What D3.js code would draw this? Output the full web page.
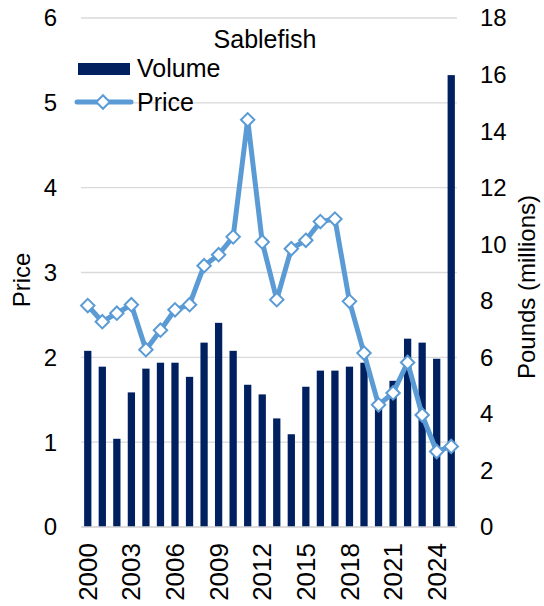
<!DOCTYPE html>
<html>
<head>
<meta charset="utf-8">
<script src="https://cdn.jsdelivr.net/npm/d3@7"></script>
<style>
  html, body { margin: 0; padding: 0; background: #fff; }
  svg { display: block; font-family: "Liberation Sans", Arial, sans-serif; }
</style>
</head>
<body>
<svg id="chart" width="544" height="606"></svg>
<script>
const years = [2000,2001,2002,2003,2004,2005,2006,2007,2008,2009,2010,2011,2012,2013,2014,2015,2016,2017,2018,2019,2020,2021,2022,2023,2024,2025];
const volume = [6.23,5.67,3.12,4.76,5.60,5.81,5.81,5.31,6.52,7.22,6.23,5.03,4.69,3.84,3.28,4.96,5.53,5.53,5.67,5.81,4.40,5.17,6.66,6.52,5.95,15.98];
const price = [2.61,2.42,2.52,2.62,2.09,2.32,2.56,2.62,3.08,3.21,3.42,4.80,3.36,2.68,3.28,3.38,3.60,3.63,2.66,2.05,1.44,1.58,1.94,1.32,0.89,0.95];
const priceTicks = [0,1,2,3,4,5,6];
const volumeTicks = [0,2,4,6,8,10,12,14,16,18];
const xTickYears = [2000,2003,2006,2009,2012,2015,2018,2021,2024];

const svg = d3.select("#chart");
const plotLeft = 80.5, plotRight = 458.5, plotTop = 18, plotBottom = 527;

const x = d3.scaleBand().domain(years).range([plotLeft, plotRight]).paddingInner(0.5).paddingOuter(0.25);
const yP = d3.scaleLinear().domain([0, 6]).range([plotBottom, plotTop]);
const yV = d3.scaleLinear().domain([0, 18]).range([plotBottom, plotTop]);

// gridlines
svg.append("g").selectAll("line").data(priceTicks).join("line")
  .attr("x1", 81).attr("x2", 457)
  .attr("y1", d => yP(d)).attr("y2", d => yP(d))
  .attr("stroke", "#d9d9d9").attr("stroke-width", 1.3);

// bars
svg.append("g").selectAll("rect").data(years).join("rect")
  .attr("x", d => x(d))
  .attr("width", x.bandwidth())
  .attr("y", (d, i) => yV(volume[i]))
  .attr("height", (d, i) => plotBottom - yV(volume[i]))
  .attr("fill", "#002060");

// x baseline
svg.append("line").attr("x1", 81).attr("x2", 457).attr("y1", plotBottom).attr("y2", plotBottom)
  .attr("stroke", "#d9d9d9").attr("stroke-width", 1.5);

// price line
const cx = d => x(d) + x.bandwidth() / 2;
const line = d3.line().x(d => cx(d[0])).y(d => yP(d[1]));
const pts = years.map((y, i) => [y, price[i]]);
svg.append("path").datum(pts).attr("d", line)
  .attr("fill", "none").attr("stroke", "#5b9bd5").attr("stroke-width", 5)
  .attr("stroke-linejoin", "round");

const diamond = d3.symbol().type(d3.symbolDiamond2).size(115);
svg.append("g").selectAll("path").data(pts).join("path")
  .attr("d", diamond)
  .attr("transform", d => `translate(${cx(d[0])},${yP(d[1])})`)
  .attr("fill", "#fff").attr("stroke", "#5b9bd5").attr("stroke-width", 2);

// left axis ticks
svg.append("g").selectAll("text").data(priceTicks).join("text")
  .attr("x", 57).attr("y", d => yP(d)).attr("dy", "0.35em")
  .attr("text-anchor", "end").attr("font-size", 24).attr("fill", "#000")
  .text(d => d);

// right axis ticks
svg.append("g").selectAll("text").data(volumeTicks).join("text")
  .attr("x", 480).attr("y", d => yV(d)).attr("dy", "0.35em")
  .attr("text-anchor", "start").attr("font-size", 24).attr("fill", "#000")
  .text(d => d);

// x ticks
svg.append("g").selectAll("text").data(xTickYears).join("text")
  .attr("transform", d => `translate(${cx(d)},543) rotate(-90)`)
  .attr("dy", "0.35em").attr("text-anchor", "end")
  .attr("font-size", 26).attr("fill", "#000")
  .text(d => d);

// axis titles
svg.append("text").attr("transform", "translate(22,280) rotate(-90)")
  .attr("dy", "0.35em").attr("text-anchor", "middle").attr("font-size", 24).text("Price");
svg.append("text").attr("transform", "translate(527,287) rotate(-90)")
  .attr("dy", "0.35em").attr("text-anchor", "middle").attr("font-size", 24).text("Pounds (millions)");

// title
svg.append("text").attr("x", 265).attr("y", 48).attr("text-anchor", "middle")
  .attr("font-size", 25).text("Sablefish");

// legend
svg.append("rect").attr("x", 78).attr("y", 63).attr("width", 52).attr("height", 12).attr("fill", "#002060");
svg.append("text").attr("x", 137).attr("y", 77).attr("font-size", 25).text("Volume");
svg.append("line").attr("x1", 77).attr("x2", 131).attr("y1", 102).attr("y2", 102)
  .attr("stroke", "#5b9bd5").attr("stroke-width", 5).attr("stroke-linecap", "round");
svg.append("path").attr("d", diamond).attr("transform", "translate(103,102)")
  .attr("fill", "#fff").attr("stroke", "#5b9bd5").attr("stroke-width", 2);
svg.append("text").attr("x", 137).attr("y", 111).attr("font-size", 25).text("Price");
</script>
</body>
</html>
